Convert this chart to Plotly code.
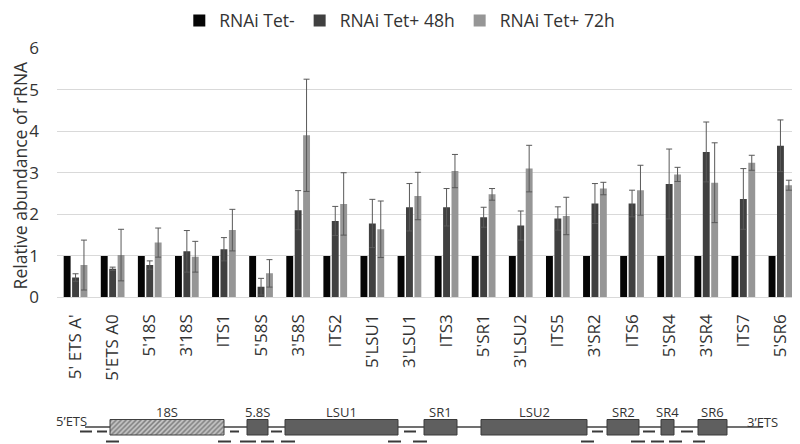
import plotly.graph_objects as go

# ---------------- data ----------------
categories = ["5' ETS A'", "5'ETS A0", "5'18S", "3'18S", "ITS1", "5'58S", "3'58S", "ITS2",
              "5'LSU1", "3'LSU1", "ITS3", "5'SR1", "3'LSU2", "ITS5", "3'SR2", "ITS6",
              "5'SR4", "3'SR4", "ITS7", "5'SR6"]
tet_minus = [1, 1, 1, 1, 1, 1, 1, 1, 1, 1, 1, 1, 1, 1, 1, 1, 1, 1, 1, 1]
tet_48h = [0.48, 0.69, 0.78, 1.11, 1.16, 0.26, 2.10, 1.84, 1.78, 2.17,
           2.17, 1.93, 1.73, 1.90, 2.26, 2.26, 2.73, 3.50, 2.37, 3.65]
err_48h = [0.09, 0.04, 0.10, 0.50, 0.28, 0.20, 0.47, 0.35, 0.58, 0.57,
           0.45, 0.24, 0.35, 0.28, 0.48, 0.32, 0.84, 0.72, 0.73, 0.62]
tet_72h = [0.78, 1.02, 1.32, 0.98, 1.62, 0.58, 3.90, 2.25, 1.64, 2.44,
           3.04, 2.48, 3.10, 1.96, 2.62, 2.58, 2.96, 2.76, 3.24, 2.70]
err_72h = [0.60, 0.62, 0.35, 0.37, 0.50, 0.33, 1.35, 0.75, 0.68, 0.57,
           0.40, 0.14, 0.56, 0.45, 0.15, 0.60, 0.17, 0.96, 0.18, 0.12]
series_names = ["RNAi Tet-", "RNAi Tet+ 48h", "RNAi Tet+ 72h"]
y_ticks = [0, 1, 2, 3, 4, 5, 6]

# rRNA gene schematic (diagram units = horizontal position along the locus)
region_names = ["18S", "5.8S", "LSU1", "SR1", "LSU2", "SR2", "SR4", "SR6"]
region_start = [110, 247, 285, 424, 481, 607, 661, 698]
region_end = [224, 268, 398, 457, 587, 639, 674, 727]
locus_start, locus_end = 85, 763
# amplicons, one per category (row 0 = upper, row 1 = lower)
amp_start = [80, 97, 106, 218, 230, 240, 261, 271, 281, 388, 404, 413, 581, 592, 631, 643, 651, 669, 681, 693]
amp_end = [92, 107, 119, 231, 239, 256, 274, 282, 295, 401, 416, 427, 594, 603, 645, 655, 664, 682, 693, 705]
amp_row = [0, 0, 1, 1, 0, 1, 1, 0, 1, 1, 0, 1, 1, 0, 1, 0, 1, 1, 0, 1]

# ---------------- figure ----------------
FONT = "Open Sans"
TXT = "#333333"
colors = ["#050505", "#404040", "#969696"]
fig = go.Figure()

fig.add_bar(x=categories, y=tet_minus, name=series_names[0], marker_color=colors[0],
            marker_line_width=0)
fig.add_bar(x=categories, y=tet_48h, name=series_names[1], marker_color=colors[1],
            marker_line_width=0,
            error_y=dict(type="data", array=err_48h, color="#595959", thickness=1, width=3))
fig.add_bar(x=categories, y=tet_72h, name=series_names[2], marker_color=colors[2],
            marker_line_width=0,
            error_y=dict(type="data", array=err_72h, color="#595959", thickness=1, width=3))

# schematic in second (hidden) axes
BOX_TOP, BOX_BOT, MID = 419.5, 435.0, 427
ROW_Y = [431.5, 441.5]

shapes = []
shapes.append(dict(type="line", xref="x2", yref="y2", x0=locus_start, x1=locus_end,
                   y0=MID, y1=MID, line=dict(color="#404040", width=1.3), layer="below"))
for i, nm in enumerate(region_names):
    if nm == "18S":
        fig.add_trace(go.Scatter(
            x=[region_start[i], region_end[i], region_end[i], region_start[i], region_start[i]],
            y=[BOX_TOP, BOX_TOP, BOX_BOT, BOX_BOT, BOX_TOP],
            xaxis="x2", yaxis="y2", mode="lines", fill="toself",
            fillcolor="white",
            fillpattern=dict(shape="/", fgcolor="#2e2e2e", bgcolor="#c8c8c8", size=3.5, solidity=0.45),
            line=dict(color="#404040", width=1), showlegend=False, hoverinfo="skip"))
    else:
        shapes.append(dict(type="rect", xref="x2", yref="y2", x0=region_start[i], x1=region_end[i],
                           y0=BOX_TOP, y1=BOX_BOT, fillcolor="#5f5f5f",
                           line=dict(color="#3a3a3a", width=1), layer="above"))
for s, e, r in zip(amp_start, amp_end, amp_row):
    shapes.append(dict(type="line", xref="x2", yref="y2", x0=s, x1=e, y0=ROW_Y[r], y1=ROW_Y[r],
                       line=dict(color="#3a3a3a", width=2), layer="above"))

annotations = []
for i, nm in enumerate(region_names):
    annotations.append(dict(x=(region_start[i] + region_end[i]) / 2, y=411.5, xref="x2", yref="y2",
                            text=nm, showarrow=False, font=dict(family=FONT, size=13, color=TXT)))
annotations.append(dict(x=71, y=421, xref="x2", yref="y2", text="5’ETS", showarrow=False,
                        font=dict(family=FONT, size=13, color=TXT)))
annotations.append(dict(x=762, y=422, xref="x2", yref="y2", text="3’ETS", showarrow=False,
                        font=dict(family=FONT, size=13, color=TXT)))
annotations.append(dict(x=-0.0495, y=0.679, xref="paper", yref="paper", text="Relative abundance of rRNA",
                        xanchor="center", yanchor="middle",
                        textangle=-90, showarrow=False, font=dict(family=FONT, size=17.5, color=TXT)))

# page body has an 8px margin: figure is 8px smaller and margins shifted so the
# plot area lands at the same page pixels as the reference
fig.update_layout(
    width=792, height=436,
    margin=dict(l=49, r=1, t=40, b=0, autoexpand=False),
    paper_bgcolor="white", plot_bgcolor="white",
    font=dict(family=FONT, color=TXT),
    barmode="group", bargap=0.32, bargroupgap=0.18,
    legend=dict(orientation="h", x=0.462, xanchor="center", y=1.069, yanchor="middle",
                font=dict(family=FONT, size=17.5, color=TXT), itemwidth=30,
                bgcolor="rgba(0,0,0,0)"),
    xaxis=dict(domain=[0, 1], anchor="y", type="category", tickangle=-90, automargin=False,
               tickfont=dict(family=FONT, size=17, color=TXT), showline=True,
               linecolor="#d9d9d9", linewidth=1, ticks="", showgrid=False, ticklabelstandoff=9),
    yaxis=dict(domain=[0.37, 1], anchor="x", range=[0, 6], tickvals=y_ticks, automargin=False,
               tickfont=dict(family=FONT, size=17, color=TXT), gridcolor="#d9d9d9",
               zeroline=False, showline=False, ticks="", ticklabelstandoff=17),
    xaxis2=dict(domain=[0, 1], anchor="y2", range=[57, 799], visible=False),
    yaxis2=dict(domain=[0, 49 / 396], anchor="x2", range=[444, 395], visible=False),
    shapes=shapes, annotations=annotations,
)

fig.write_html("out.html")
